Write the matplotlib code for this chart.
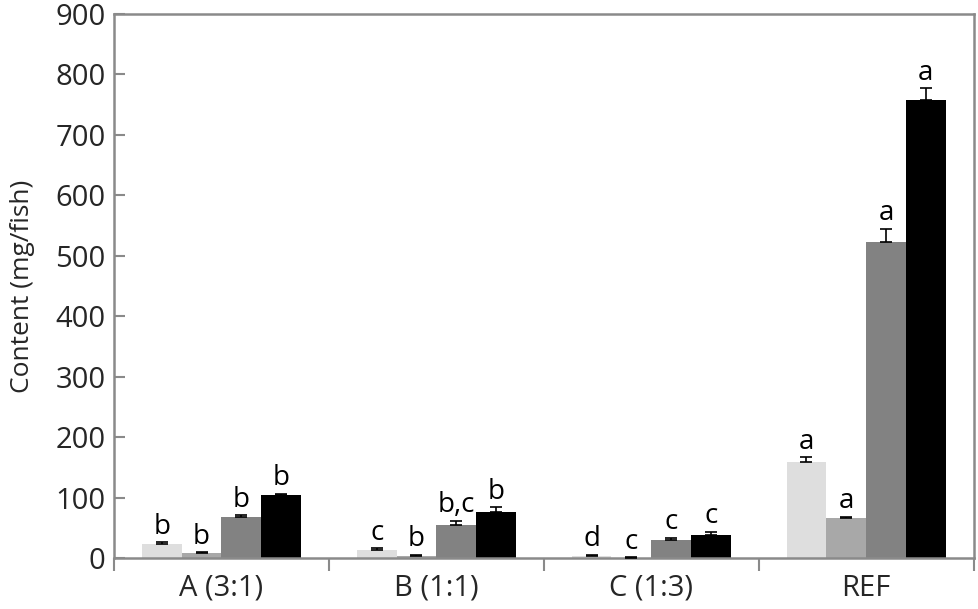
import matplotlib.pyplot as plt
import numpy as np

# categories and series (mg/fish)
groups = ['A (3:1)', 'B (1:1)', 'C (1:3)', 'REF']
s1 = [24, 14, 3, 160]
s2 = [8, 4, 1, 66]
s3 = [69, 55, 31, 523]
s4 = [104, 76, 38, 758]
e1 = [3, 3, 3, 7]
e2 = [2, 2, 1, 3]
e3 = [2, 7, 3, 22]
e4 = [3, 8, 6, 19]
letters1 = ['b', 'c', 'd', 'a']
letters2 = ['b', 'b', 'c', 'a']
letters3 = ['b', 'b,c', 'c', 'a']
letters4 = ['b', 'b', 'c', 'a']

colors = ['#dedede', '#a8a8a8', '#828282', '#000000']
axis_col = '#8a8a8a'
txt_col = '#262626'

plt.rcParams['font.family'] = ['Open Sans', 'DejaVu Sans']

fig = plt.figure(figsize=(9.79, 6.09), dpi=100)
ax = fig.add_axes([0.1164, 0.0833, 0.878, 0.8937])

x = np.arange(len(groups))
w = 0.185
series = [s1, s2, s3, s4]
errs = [e1, e2, e3, e4]
lets = [letters1, letters2, letters3, letters4]

for i in range(4):
    pos = x + (i - 1.5) * w
    ax.bar(pos, series[i], width=w, color=colors[i], edgecolor='none', zorder=2)
    ax.errorbar(pos, series[i], yerr=[np.zeros(4), errs[i]], fmt='none',
                ecolor='black', elinewidth=1.2, capsize=4, capthick=1.2, zorder=3)
    for p, v, e, t in zip(pos, series[i], errs[i], lets[i]):
        ax.annotate(t, (p, v + e), xytext=(0, 1), textcoords='offset points',
                    ha='center', va='bottom', fontsize=20, color='black')

ax.set_xlim(-0.5, 3.5)
ax.set_ylim(0, 900)
ax.set_yticks(np.arange(0, 901, 100))
ax.set_xticks(x)
ax.set_xticklabels(groups)
ax.set_xticks([-0.5, 0.5, 1.5, 2.5, 3.5], minor=True)
ax.tick_params(axis='x', which='major', length=0, labelsize=21, pad=11, labelcolor=txt_col)
ax.tick_params(axis='x', which='minor', direction='out', length=9, width=1.5, color=axis_col)
ax.tick_params(axis='y', direction='in', length=8, width=1.5, color=axis_col,
               labelsize=21, pad=6, labelcolor=txt_col)
ax.set_ylabel('Content (mg/fish)', fontsize=19, color=txt_col, labelpad=15)

for s in ax.spines.values():
    s.set_color(axis_col)
    s.set_linewidth(1.8)

fig.savefig('out.png', dpi=100)
